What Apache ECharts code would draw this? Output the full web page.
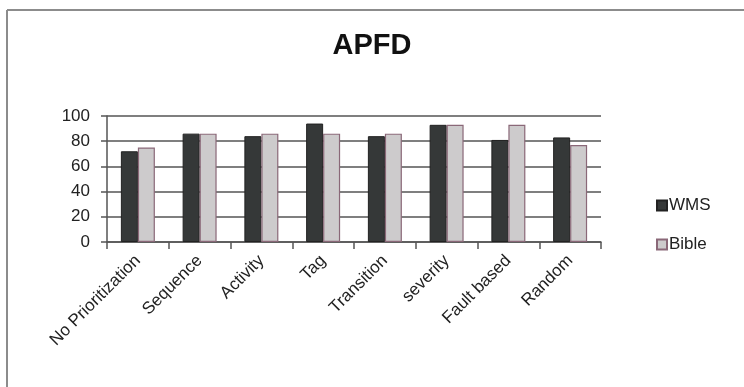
<!DOCTYPE html>
<html>
<head>
<meta charset="utf-8">
<script src="https://cdn.jsdelivr.net/npm/echarts@6/dist/echarts.min.js"></script>
<style>
html,body{margin:0;padding:0;background:#fff;}
#c{width:744px;height:387px;}
</style>
</head>
<body>
<div id="c"></div>
<script>
const categories = ["No Prioritization","Sequence","Activity","Tag","Transition","severity","Fault based","Random"];
const wmsValues = [72, 86, 84, 94, 84, 93, 81, 83];
const bibleValues = [75, 86, 86, 86, 86, 93, 93, 77];
const yTicks = [0, 20, 40, 60, 80, 100];

const FONT = 'Liberation Sans, Arial, sans-serif';
const chart = echarts.init(document.getElementById('c'), null, {renderer: 'canvas'});
chart.setOption({
  backgroundColor: '#ffffff',
  animation: false,
  title: {
    text: 'APFD',
    left: 'center',
    top: 26,
    textStyle: {fontFamily: FONT, fontSize: 29, fontWeight: 'bold', color: '#111'}
  },
  graphic: [
    {type: 'line', shape: {x1: 7, y1: 10, x2: 744, y2: 10}, style: {stroke: '#8c8c8c', lineWidth: 2}},
    {type: 'line', shape: {x1: 7, y1: 10, x2: 7, y2: 387}, style: {stroke: '#8c8c8c', lineWidth: 2}}
  ],
  legend: {
    orient: 'vertical',
    left: 651,
    top: 192,
    itemWidth: 10,
    itemHeight: 10,
    itemGap: 22,
    icon: 'rect',
    textStyle: {fontFamily: FONT, fontSize: 17, color: '#222', padding: [0,0,0,-3]},
    data: ['WMS', 'Bible']
  },
  grid: {left: 107, right: 143, top: 116, bottom: 145, containLabel: false},
  xAxis: {
    type: 'category',
    data: categories,
    axisLine: {lineStyle: {color: '#555', width: 1.5}},
    axisTick: {show: true, length: 7, lineStyle: {color: '#555', width: 1.5}},
    axisLabel: {rotate: 45, margin: 16, fontFamily: FONT, fontSize: 17, color: '#222', interval: 0}
  },
  yAxis: {
    type: 'value',
    min: 0, max: 100, interval: 20,
    axisLine: {show: true, lineStyle: {color: '#555', width: 1.5}},
    axisTick: {show: true, length: 6, lineStyle: {color: '#555', width: 1.5}},
    axisLabel: {margin: 17, fontFamily: FONT, fontSize: 17, color: '#222',
      formatter: v => yTicks.includes(v) ? String(v) : ''},
    splitLine: {show: true, lineStyle: {color: '#555', width: 1.5}}
  },
  series: [
    {name: 'WMS', type: 'bar', data: wmsValues, barWidth: 17, barGap: '0%',
      itemStyle: {color: '#353838', borderColor: '#222', borderWidth: 1}},
    {name: 'Bible', type: 'bar', data: bibleValues, barWidth: 17,
      itemStyle: {color: '#cdcbcc', borderColor: '#8a6878', borderWidth: 1.2}}
  ]
});
</script>
</body>
</html>
